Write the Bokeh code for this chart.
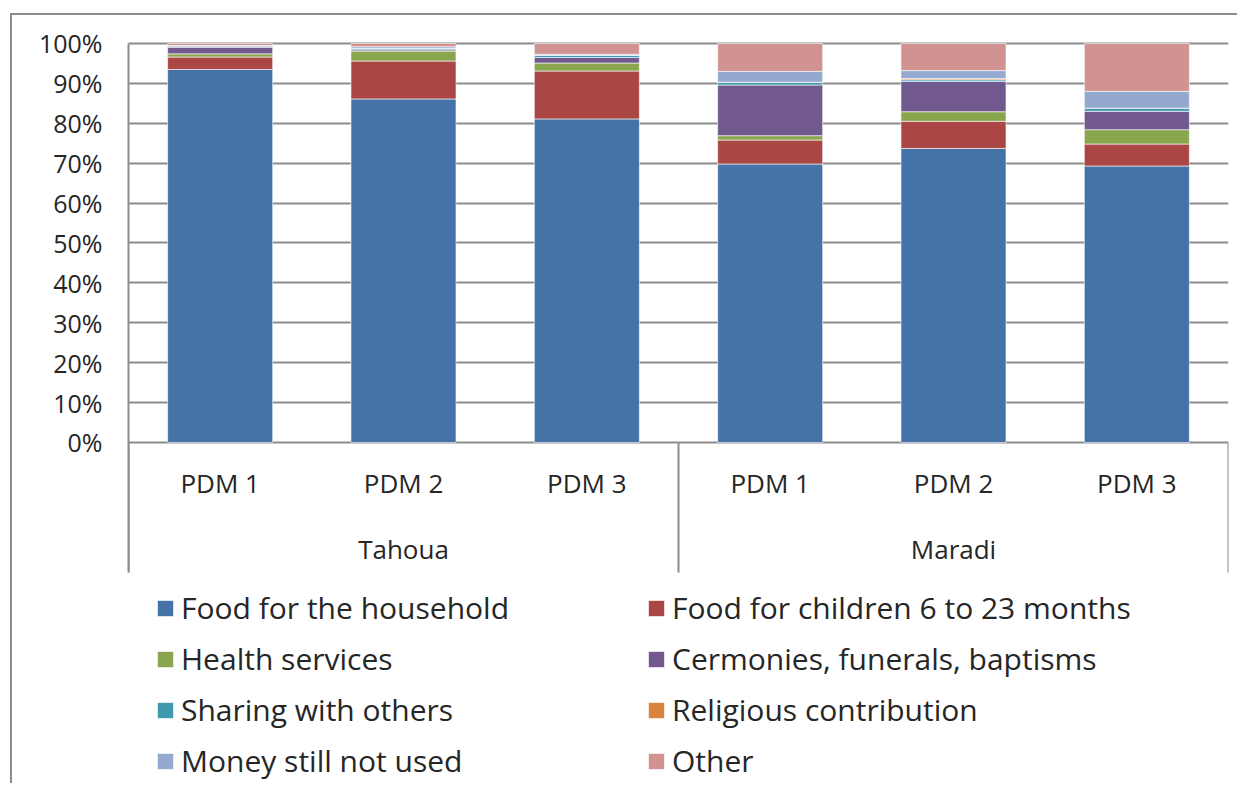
from bokeh.plotting import figure
from bokeh.models import (FactorRange, Range1d, FixedTicker, Legend, LegendItem,
                          ColumnDataSource)
from bokeh.core.properties import value
from bokeh.embed import file_html
from bokeh.resources import INLINE

# ---------------- data ----------------
regions = ["Tahoua", "Maradi"]
rounds = ["PDM 1", "PDM 2", "PDM 3"]
series = ["Food for the household", "Food for children 6 to 23 months",
          "Health services", "Cermonies, funerals, baptisms",
          "Sharing with others", "Religious contribution",
          "Money still not used", "Other"]
colors = ["#4572A7", "#AA4643", "#89A54E", "#71588F",
          "#4198AF", "#DB843D", "#93A9CF", "#D19392"]

food_household = [93.5, 86.1, 81.1, 69.8, 73.7, 69.3]
food_children = [3.1, 9.5, 12.0, 6.0, 6.8, 5.5]
health = [0.8, 2.5, 2.0, 1.1, 2.4, 3.6]
ceremonies = [1.7, 0.3, 1.4, 12.7, 7.6, 4.6]
sharing = [0.1, 0.4, 0.5, 0.7, 0.4, 0.8]
religious = [0.0, 0.0, 0.0, 0.0, 0.3, 0.0]
not_used = [0.3, 0.4, 0.3, 2.7, 2.0, 4.2]
other = [0.5, 0.8, 2.7, 7.0, 6.8, 12.0]

y_ticks = [0, 10, 20, 30, 40, 50, 60, 70, 80, 90, 100]
y_tick_labels = {t: f"{t}%" for t in y_ticks}

# ---------------- layout constants ----------------
FONT = "Open Sans"
TXT = "#262626"
GRID = "#8c8c8c"
PX_PER_PCT = 3.99
W, H = 1227, 770
BORDER_L, BORDER_R, BORDER_T = 116, 11, 24
FRAME_H = H - BORDER_T            # frame to bottom of canvas
Y_TOP = 101
Y_BOTTOM = Y_TOP - FRAME_H / PX_PER_PCT
AXIS_AREA = -32.6                 # bottom of category axis area (in % units)

factors = [(r, d) for r in regions for d in rounds]
data = dict(x=factors)
keys = []
for name, vals in zip(series, [food_household, food_children, health, ceremonies,
                               sharing, religious, not_used, other]):
    data[name] = vals
    keys.append(name)
source = ColumnDataSource(data)

p = figure(x_range=FactorRange(*factors, range_padding=0, group_padding=0,
                               factor_padding=0),
           y_range=Range1d(Y_BOTTOM, Y_TOP),
           width=W, height=H, output_backend="svg", toolbar_location=None,
           x_axis_location=None, min_border_left=BORDER_L,
           min_border_right=BORDER_R, min_border_top=BORDER_T,
           min_border_bottom=0)
p.outline_line_color = None
p.background_fill_color = "white"
p.border_fill_color = "white"
p.styles = {"margin-left": "10px", "margin-top": "13px",
            "border-left": "2px solid #8c8c8c", "border-top": "2px solid #8c8c8c"}

# grid
p.xgrid.visible = False
p.ygrid.ticker = FixedTicker(ticks=y_ticks)
p.ygrid.grid_line_color = GRID
p.ygrid.grid_line_width = 2

# y axis
p.yaxis.ticker = FixedTicker(ticks=y_ticks)
p.yaxis.major_label_overrides = y_tick_labels
p.yaxis.bounds = (AXIS_AREA, 100)
p.yaxis.axis_line_color = GRID
p.yaxis.axis_line_width = 2
p.yaxis.major_tick_line_color = None
p.yaxis.minor_tick_line_color = None
p.yaxis.major_tick_out = 0
p.yaxis.major_label_standoff = 26
p.yaxis.major_label_text_font = FONT
p.yaxis.major_label_text_font_size = "25px"
p.yaxis.major_label_text_color = TXT

# bars
renderers = p.vbar_stack(keys, x="x", width=0.573, source=source, color=colors,
                         line_color="white", line_alpha=0.6, line_width=1)

# category axis area (drawn inside frame below 0)
p.text(x=factors, y=[-10.1] * len(factors), text=[d for r, d in factors],
       text_align="center", text_baseline="middle", text_font=value(FONT),
       text_font_size="26px", text_color=TXT)
p.text(x=regions, y=[-26.6] * len(regions), text=regions,
       text_align="center", text_baseline="middle", text_font=value(FONT),
       text_font_size="26px", text_color=TXT)
sep_x = [(regions[0], rounds[0], -0.5), (regions[1], rounds[0], -0.5),
         (regions[1], rounds[-1], 0.5)]
p.segment(x0=sep_x, x1=sep_x, y0=[0] * 3, y1=[AXIS_AREA] * 3,
          line_color=GRID, line_width=2)

# legend
legend = Legend(items=[LegendItem(label=s, renderers=[r]) for s, r in zip(series, renderers)],
                location=(27, 4), orientation="horizontal", ncols=2,
                glyph_width=20, glyph_height=20, label_standoff=6,
                label_height=30, label_width=455, spacing=10, padding=0,
                margin=0, border_line_color=None, background_fill_alpha=0,
                label_text_font=FONT, label_text_font_size="30px",
                label_text_color=TXT)
p.add_layout(legend, "center")

open("out.html", "w").write(file_html(p, INLINE))
